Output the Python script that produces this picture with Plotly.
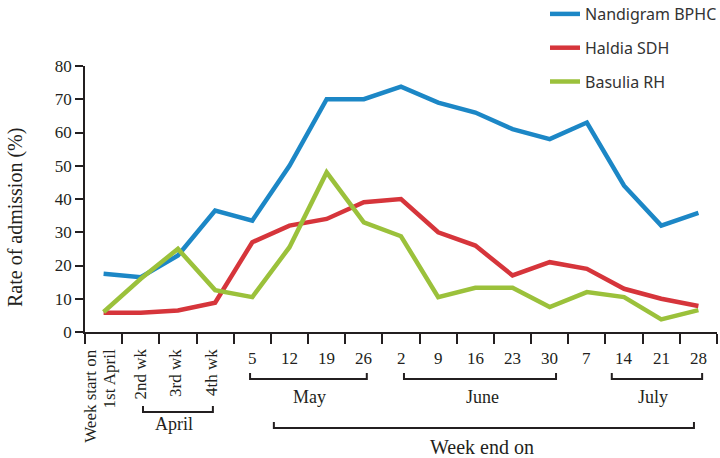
import plotly.graph_objects as go

categories = ["1st April", "2nd wk", "3rd wk", "4th wk", "5", "12", "19", "26",
              "2", "9", "16", "23", "30", "7", "14", "21", "28"]
nandigram = [17.5, 16.5, 23, 36.5, 33.5, 50, 70, 70, 73.8, 69, 66, 61, 58, 63, 44, 32, 35.8]
haldia = [5.8, 5.8, 6.5, 8.8, 27, 32, 34, 39, 40, 30, 26, 17, 21, 19, 13, 10, 7.8]
basulia = [6, 16, 25, 12.6, 10.5, 25.5, 48, 33, 28.8, 10.5, 13.3, 13.3, 7.5, 12, 10.5, 3.8, 6.6]

series_names = ["Nandigram BPHC", "Haldia SDH", "Basulia RH"]
series_colors = ["#1c87c6", "#d6353b", "#9bc13b"]

rotated_labels = [("Week start on", -0.37), ("1st April", 0.17), ("2nd wk", 0.98),
                  ("3rd wk", 1.92), ("4th wk", 2.9)]
month_labels = [("April", 1.89, 1.06, 2.94, "low"), ("May", 5.55, 3.94, 7.08, "mid"),
                ("June", 10.18, 8.08, 12.17, "mid"), ("July", 14.78, 13.67, 16.1, "mid")]

SERIF = "Liberation Serif, Times New Roman, serif"
TXT = "#231f20"

fig = go.Figure()
for i, (name, vals) in enumerate(zip(series_names, [nandigram, haldia, basulia])):
    fig.add_trace(go.Scatter(x=categories, y=vals, mode="lines", name=name,
                             legendgroup=name,
                             line=dict(color=series_colors[i], width=4.5)))

# plot area geometry: y pixel 66..332, height 266
H = 266.0
def py(pix):
    return (332 - pix) / H

ann = []
for text, pos in rotated_labels:
    ann.append(dict(x=pos, y=py(347), xref="x", yref="paper", text=text, showarrow=False,
                    textangle=-90, xanchor="center", yanchor="top",
                    font=dict(family=SERIF, size=17, color=TXT)))
for idx in range(4, len(categories)):
    ann.append(dict(x=idx, y=py(358), xref="x", yref="paper", text=categories[idx],
                    showarrow=False, xanchor="center", yanchor="middle",
                    font=dict(family=SERIF, size=17, color=TXT)))

shapes = []
for text, cx, x0, x1, lvl in month_labels:
    if lvl == "low":
        ybar, ytop, ylab = 412, 406, 424
    else:
        ybar, ytop, ylab = 379, 373, 397
    shapes.append(dict(type="path", xref="x", yref="paper",
                       path=f"M {x0},{py(ytop)} L {x0},{py(ybar)} L {x1},{py(ybar)} L {x1},{py(ytop)}",
                       line=dict(color=TXT, width=2)))
    ann.append(dict(x=cx, y=py(ylab), xref="x", yref="paper", text=text, showarrow=False,
                    xanchor="center", yanchor="middle",
                    font=dict(family=SERIF, size=18, color=TXT)))

# Week end on bracket
shapes.append(dict(type="path", xref="x", yref="paper",
                   path=f"M 4.58,{py(422)} L 4.58,{py(428)} L 15.88,{py(428)} L 15.88,{py(422)}",
                   line=dict(color=TXT, width=2)))
ann.append(dict(x=10.18, y=py(447), xref="x", yref="paper", text="Week end on", showarrow=False,
                xanchor="center", yanchor="middle",
                font=dict(family=SERIF, size=20, color=TXT)))

# y-axis title
ann.append(dict(x=(15 - 85) / 632.0, y=py(218), xref="paper", yref="paper",
                text="Rate of admission (%)", showarrow=False, textangle=-90,
                xanchor="center", yanchor="middle",
                font=dict(family=SERIF, size=20, color=TXT)))

fig.update_layout(
    width=720, height=458,
    margin=dict(l=85, r=3, t=66, b=126, autoexpand=False),
    paper_bgcolor="white", plot_bgcolor="white",
    showlegend=True,
    legend=dict(x=(545 - 85) / 632.0, y=py(-3), xanchor="left", yanchor="top",
                traceorder="grouped", tracegroupgap=10,
                font=dict(family="Noto Sans, Open Sans, sans-serif", size=16, color="#333333"),
                bgcolor="rgba(0,0,0,0)"),
    annotations=ann,
    shapes=shapes,
)
fig.update_xaxes(type="category", categoryorder="array", categoryarray=categories,
                 range=[-0.5, 16.5], showticklabels=False, ticks="outside", tickson="boundaries",
                 ticklen=10, tickwidth=1.5, tickcolor=TXT, showline=True, linecolor=TXT,
                 linewidth=1.5, showgrid=False, zeroline=False)
fig.update_yaxes(range=[0, 80], dtick=10, tick0=0, ticks="outside", ticklen=8, tickwidth=1.5,
                 tickcolor=TXT, showline=True, linecolor=TXT, linewidth=1.5, showgrid=False,
                 zeroline=False, tickfont=dict(family=SERIF, size=17, color=TXT))

fig.write_html("out.html", config={"displayModeBar": False},
               post_script="document.body.style.margin='0';")
